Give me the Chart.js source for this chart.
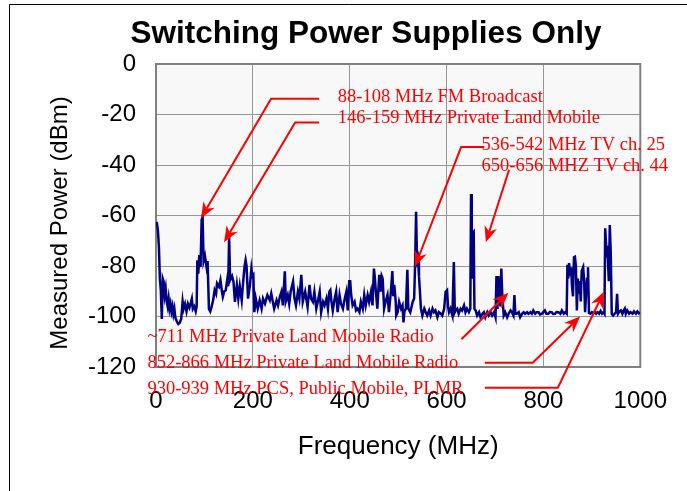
<!DOCTYPE html>
<html>
<head>
<meta charset="utf-8">
<script src="https://cdn.jsdelivr.net/npm/chart.js@4.4.1/dist/chart.umd.min.js"></script>
<style>
html,body{margin:0;padding:0;background:#ffffff;}
#wrap{width:687px;height:491px;position:relative;}
</style>
</head>
<body>
<div id="wrap"><canvas id="c" width="687" height="491"></canvas></div>
<script>
// ---- data ----
const freqMHz = [
  1.5,4,6,8,10,12,14,16,18,20,
  22,24,26,28,30,32,34,36,38,40,
  43,46,49,52,55,57,60,63,66,69,
  72,74,76,79,82,84,85.3,87.3,89.4,92,
  94.2,96.2,98.3,101,104.4,106.5,109.3,112,115,118,
  121,124,126,130,133,136,138,141,144,147,
  149,151,153,157,160,163,167,170,173,177,
  180,183,185,187,190,194,197,199,201,203,
  206,210,214,218,221,225,230,235,238,244,
  249,252,256,259,262,266,268,272,275,278,
  283,286,289,293,296,300,303,308,313,317,
  320,324,327,331,334,338,341,345,348,352,
  355,358,360,362,365,369,372,375,379,382,
  386,389,393,396,399,401,403,406,410,413,
  416,420,423,427,430,433,437,440,444,447,
  450,452,454,457,461,464,466,468,471,474,
  478,481,485,488,490,492,495,496,499,502,
  506,509,511,513,516,519,521,525,530,533,
  535,537,539,541,543,545,547,550,554,557,
  560,564,567,571,574,577,581,584,588,591,
  595,598,601,603,605,608,612,615,617,619,
  622,625,629,632,636,639,642,646,649,650.5,
  652,654,656,657.5,660,663,667,670,674,677,
  680,684,687,691,694,698,701,703,705,707,
  709,711,713,715,718,721,725,728,732,735,
  738,740,742,745,749,752,756,759,762,766,
  769,773,776,779,783,786,790,793,797,800,
  803,806,810,813,817,820,824,827,831,835,
  838,842,845,848,849.5,851,853,855,857,859,
  861,863,865,867,869,871,873,875,877,879,
  882,884,886,888,890,892,894,897,900,903,
  906,909,912,915,918,921,924,926,927.5,929.5,
  931,933,935,937,939,941,944,947,950,952,
  954,957,960,963,966,968,970,973,977,980,
  984,987,991,994,997,1000
];
const powerDbm = [
  -62.5,-66,-72.4,-85,-90,-101,-85,-86.2,-91.5,-89,
  -94,-96,-93,-97,-95,-98,-96,-99,-97,-100.5,
  -102,-103,-102.5,-101,-94,-97,-95,-98,-95,-96.5,
  -94.5,-93,-97,-96,-98,-96,-77.7,-83,-75.7,-80.4,
  -61.8,-60.5,-78,-76,-80.4,-78,-97,-98,-96,-93.5,
  -89.6,-91,-86.9,-88.2,-85.6,-90,-92.2,-90,-89.6,-85.6,
  -88,-68.5,-85.6,-84,-86.2,-94.2,-87.5,-92.9,-88,-93.6,
  -86.2,-80,-77.7,-80,-92.9,-87.5,-81,-84,-83.5,-98.3,
  -92.9,-96.9,-93.6,-96.9,-92.9,-94.9,-91.5,-93.6,-90.9,-96.9,
  -93.6,-95.6,-92,-90.2,-95.6,-82.1,-94,-91.5,-95,-90.2,
  -86.2,-92.9,-95.6,-90.2,-92.9,-83.5,-94.2,-90.2,-96.2,-87.5,
  -92.9,-94.2,-90.2,-96.9,-94.2,-90.2,-98.3,-94.2,-95.6,-92.9,
  -96.9,-90.2,-89.6,-93.6,-97.6,-92.9,-90.2,-98.3,-91.5,-94.9,
  -96.9,-93.6,-90.2,-97.6,-86,-86,-91.5,-95.6,-94.2,-97.6,
  -96.9,-98.3,-94.2,-96.9,-91.5,-95.6,-91.5,-94.2,-90.2,-95.6,
  -81,-85,-90.2,-96.9,-83.5,-90.2,-84,-85,-96.9,-94.2,
  -91.5,-98.3,-90.2,-82,-92,-87.5,-94.2,-99.6,-98.3,-94.2,
  -96.9,-95.6,-102.3,-98,-96.9,-81.5,-96.9,-98.3,-94.2,-92.9,
  -79.5,-58.5,-78.1,-76.8,-84,-90.2,-96.9,-99.6,-96.9,-98.3,
  -99.6,-97.6,-99.6,-96.9,-98.3,-97.6,-100.3,-98.3,-98.9,-99.6,
  -96.9,-90.2,-89.6,-96,-98.3,-96.9,-99.6,-78.4,-98.3,-97.5,
  -96.9,-98.9,-96.9,-97.6,-95.6,-98.3,-96.9,-98.3,-96.9,-51.5,
  -85,-67,-66.5,-97,-97.6,-99.6,-98.3,-100.3,-98.9,-98.3,
  -100.3,-98.3,-99.6,-98.3,-99.6,-98.3,-100.3,-84,-97,-84,
  -91.5,-96,-81,-91.5,-99.6,-98.3,-100.3,-98.9,-97.6,-98.3,
  -99.6,-91.5,-98.9,-98.9,-98.3,-100.3,-98.9,-98.3,-98.9,-98.3,
  -98.9,-98.3,-98.9,-97.6,-98.9,-98.3,-98.3,-99.2,-98.9,-98.2,
  -97.6,-98.9,-98.9,-98.2,-98.3,-99,-98.9,-98.2,-98.3,-98.9,
  -97.6,-98.9,-98.3,-98.9,-79.5,-85,-78.8,-84,-80.5,-88,
  -92,-76.5,-76.3,-80,-97.6,-85,-91,-86,-94,-82,
  -80.5,-86,-98.3,-91,-85,-80.5,-98.6,-98.9,-98.3,-98.9,
  -98,-98.9,-98.3,-98.9,-97.8,-98.9,-98.3,-98.9,-65.1,-72,
  -75,-77,-86,-63.8,-75,-98.9,-99.6,-98.9,-98.3,-91,
  -98.9,-98,-97.6,-98.9,-97.5,-96.9,-98.9,-97.6,-98.9,-98.3,
  -98.9,-98,-98.9,-98,-98.8,-98.5
];
const chartTitle = 'Switching Power Supplies Only';
const xAxisTitle = 'Frequency (MHz)';
const yAxisTitle = 'Measured Power (dBm)';
const annotationLabels = [
  '88-108 MHz FM Broadcast',
  '146-159 MHz Private Land Mobile',
  '536-542 MHz TV ch. 25',
  '650-656 MHZ TV ch. 44',
  '~711 MHz Private Land Mobile Radio',
  '852-866 MHz Private Land Mobile Radio',
  '930-939 MHz PCS, Public Mobile, PLMR'
];

// ---- annotation geometry (in data units: MHz, dBm) ----
const labelAnchors = [
  [375.4,-13],[375.4,-21.5],[672.3,-32],[672.3,-40.6],
  [-17.8,-108],[-17.8,-118.3],[-17.8,-128.6]
];
const arrowPaths = [
  [[336.6,-13.8],[237.6,-13.8],[92.8,-61.1]],
  [[336.6,-23.2],[287.3,-23.2],[140.5,-70.6]],
  [[677.9,-32.9],[630,-32.9],[534.5,-80.3]],
  [[729,-41.9],[681.1,-70.6]],
  [[630.6,-109],[727.6,-90.6]],
  [[679.1,-118.3],[777.8,-118.3],[875.7,-100]],
  [[679.1,-128.2],[829.8,-128.2],[924.8,-90.2]]
];

const points = freqMHz.map((f, i) => ({x: f, y: powerDbm[i]}));

const RED = '#ff0000';
const decorPlugin = {
  id: 'decor',
  beforeDraw(chart) {
    const {ctx, chartArea: a} = chart;
    ctx.save();
    ctx.fillStyle = '#f8f8f8';
    ctx.fillRect(a.left, a.top, a.right - a.left, a.bottom - a.top);
    ctx.restore();
  },
  beforeDatasetsDraw(chart) {
    const {ctx, chartArea: a} = chart;
    ctx.save();
    ctx.strokeStyle = '#808080';
    ctx.lineWidth = 2;
    ctx.strokeRect(a.left, a.top, a.right - a.left, a.bottom - a.top);
    ctx.restore();
  },
  afterDraw(chart) {
    const {ctx} = chart;
    const xs = chart.scales.x, ys = chart.scales.y;
    const px = v => xs.getPixelForValue(v);
    const py = v => ys.getPixelForValue(v);
    ctx.save();
    // outer frame
    ctx.strokeStyle = '#000';
    ctx.lineWidth = 1;
    ctx.beginPath();
    ctx.moveTo(9.5, 491); ctx.lineTo(9.5, 4.5); ctx.lineTo(687, 4.5);
    ctx.stroke();
    // y axis title
    ctx.save();
    ctx.translate(60, 223);
    ctx.rotate(-Math.PI / 2);
    ctx.font = '24px "Liberation Sans", Arial, sans-serif';
    ctx.fillStyle = '#000';
    ctx.textAlign = 'center';
    ctx.textBaseline = 'middle';
    ctx.fillText(yAxisTitle, 0, 0);
    ctx.restore();
    // annotation labels
    ctx.font = '18.5px "Liberation Serif", "Times New Roman", serif';
    ctx.fillStyle = RED;
    ctx.textAlign = 'left';
    ctx.textBaseline = 'middle';
    annotationLabels.forEach((t, i) => {
      ctx.fillText(t, px(labelAnchors[i][0]), py(labelAnchors[i][1]));
    });
    // arrows
    ctx.strokeStyle = RED;
    ctx.fillStyle = RED;
    ctx.lineWidth = 2;
    ctx.lineJoin = 'miter';
    arrowPaths.forEach(path => {
      const pts = path.map(p => [px(p[0]), py(p[1])]);
      const n = pts.length;
      const tip = pts[n - 1], prev = pts[n - 2];
      const ang = Math.atan2(tip[1] - prev[1], tip[0] - prev[0]);
      const L = 16, W = 6.5, N = 11;
      const ca = Math.cos(ang), sa = Math.sin(ang);
      const notch = [tip[0] - N * ca, tip[1] - N * sa];
      ctx.beginPath();
      ctx.moveTo(pts[0][0], pts[0][1]);
      for (let k = 1; k < n - 1; k++) ctx.lineTo(pts[k][0], pts[k][1]);
      ctx.lineTo(notch[0], notch[1]);
      ctx.stroke();
      const bx = tip[0] - L * ca, by = tip[1] - L * sa;
      ctx.beginPath();
      ctx.moveTo(tip[0], tip[1]);
      ctx.lineTo(bx - W * sa, by + W * ca);
      ctx.lineTo(notch[0], notch[1]);
      ctx.lineTo(bx + W * sa, by - W * ca);
      ctx.closePath();
      ctx.fill();
    });
    ctx.restore();
  }
};

new Chart(document.getElementById('c'), {
  type: 'line',
  data: {
    datasets: [{
      data: points,
      borderColor: '#000080',
      borderWidth: 2.5,
      pointRadius: 0,
      tension: 0,
      fill: false
    }]
  },
  plugins: [decorPlugin],
  options: {
    responsive: false,
    animation: false,
    events: [],
    layout: {padding: {left: 88, right: 43, top: 0, bottom: 0}},
    plugins: {
      legend: {display: false},
      tooltip: {enabled: false},
      title: {
        display: true,
        text: chartTitle,
        color: '#000',
        font: {family: '"Liberation Sans", Arial, sans-serif', size: 31.5, weight: 'bold', lineHeight: 1.2},
        padding: {top: 15.5, bottom: 10.7}
      }
    },
    scales: {
      x: {
        type: 'linear',
        min: 0, max: 1000,
        afterFit: s => { s.height = 124; },
        grid: {color: '#969696', lineWidth: 1, drawTicks: false},
        border: {display: false},
        ticks: {
          stepSize: 200, padding: 20, maxRotation: 0, autoSkip: false,
          color: '#000',
          callback: v => String(v),
          font: {family: '"Liberation Sans", Arial, sans-serif', size: 24}
        },
        title: {
          display: true, text: xAxisTitle, color: '#000',
          font: {family: '"Liberation Sans", Arial, sans-serif', size: 26, lineHeight: 1.2},
          padding: {top: 0, bottom: 28.4}
        }
      },
      y: {
        min: -120, max: 0,
        afterFit: s => { s.width = 68; },
        grid: {color: '#969696', lineWidth: 1, drawTicks: false},
        border: {display: false},
        ticks: {
          stepSize: 20, padding: 20,
          color: '#000',
          callback: v => String(v),
          font: {family: '"Liberation Sans", Arial, sans-serif', size: 24}
        }
      }
    }
  }
});
</script>
</body>
</html>
